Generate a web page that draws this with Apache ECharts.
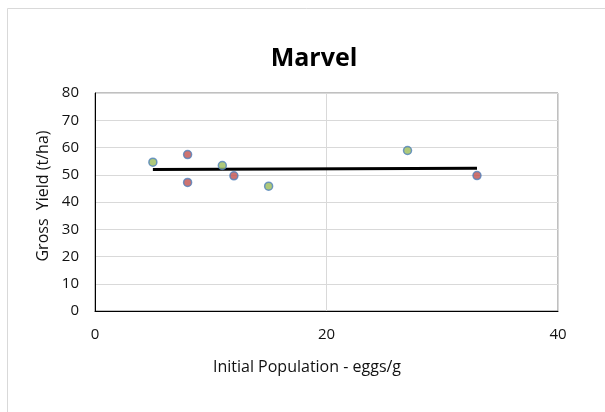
<!DOCTYPE html>
<html>
<head>
<meta charset="utf-8">
<script src="https://cdn.jsdelivr.net/npm/echarts@6/dist/echarts.min.js"></script>
<style>
  html, body { margin: 0; padding: 0; background: #fff; }
  #chart { width: 605px; height: 412px; }
</style>
</head>
<body>
<div id="chart"></div>
<script>
// Initial population (eggs/g) and gross yield (t/ha) per plot
const greenX = [5, 11, 15, 27];
const greenY = [54.6, 53.4, 45.8, 58.9];
const redX = [8, 8, 12, 33];
const redY = [57.4, 47.2, 49.6, 49.7];
// Linear trend endpoints
const trendX = [5, 33];
const trendY = [51.9, 52.4];
const xTicks = [0, 20, 40];
const yTicks = [0, 10, 20, 30, 40, 50, 60, 70, 80];

const FONT = 'Open Sans';
const pair = (xs, ys) => xs.map((x, i) => [x, ys[i]]);

const chart = echarts.init(document.getElementById('chart'), null, { renderer: 'canvas' });
chart.setOption({
  backgroundColor: '#fff',
  animation: false,
  graphic: [{
    type: 'rect',
    shape: { x: 7.5, y: 8.5, width: 620, height: 420 },
    style: { fill: 'none', stroke: '#d9d9d9', lineWidth: 1 },
    silent: true
  }],
  title: {
    text: 'Marvel',
    left: 309,
    top: 41,
    textAlign: 'center',
    textStyle: { fontFamily: FONT, fontWeight: 'bold', fontSize: 25, color: '#000' }
  },
  grid: {
    left: 95, top: 93, width: 463, height: 218,
    show: true, borderColor: '#808080', borderWidth: 1
  },
  xAxis: {
    type: 'value',
    min: xTicks[0], max: xTicks[xTicks.length - 1], interval: xTicks[1] - xTicks[0],
    name: 'Initial Population - eggs/g',
    nameLocation: 'middle',
    nameGap: 48,
    nameTextStyle: { fontFamily: FONT, fontSize: 16, color: '#111', padding: [0, 39, 0, 0] },
    axisLine: { show: true, lineStyle: { color: '#000', width: 1 } },
    axisTick: { show: false },
    axisLabel: { fontFamily: FONT, fontSize: 15, color: '#111', margin: 16 },
    splitLine: { show: true, lineStyle: { color: '#d9d9d9', width: 1 } }
  },
  yAxis: {
    type: 'value',
    min: yTicks[0], max: yTicks[yTicks.length - 1], interval: yTicks[1] - yTicks[0],
    name: 'Gross  Yield (t/ha)',
    nameLocation: 'middle',
    nameGap: 38,
    nameTextStyle: { fontFamily: FONT, fontSize: 16, color: '#111', padding: [0, 0, 0, 12] },
    axisLine: { show: true, lineStyle: { color: '#000', width: 1 } },
    axisTick: { show: false },
    axisLabel: { fontFamily: FONT, fontSize: 15, color: '#111', margin: 16 },
    splitLine: { show: true, lineStyle: { color: '#d9d9d9', width: 1 } }
  },
  series: [
    {
      type: 'line',
      data: pair(trendX, trendY),
      symbol: 'none',
      lineStyle: { color: '#000', width: 3 },
      z: 2
    },
    {
      type: 'scatter',
      data: pair(greenX, greenY),
      symbolSize: 8,
      itemStyle: { color: '#9bbb59', borderColor: '#4f81bd', borderWidth: 1.5 },
      z: 3
    },
    {
      type: 'scatter',
      data: pair(redX, redY),
      symbolSize: 8,
      itemStyle: { color: '#c0504d', borderColor: '#4f81bd', borderWidth: 1.5 },
      z: 3
    }
  ]
});
</script>
</body>
</html>
